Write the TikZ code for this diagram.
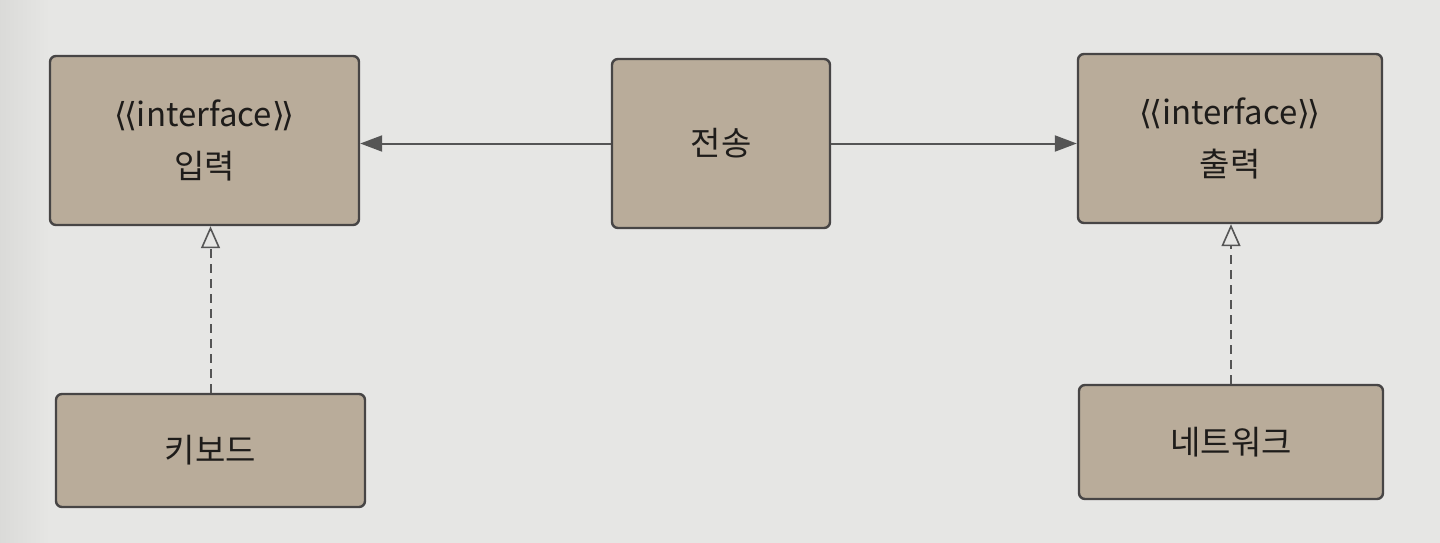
\documentclass[tikz,border=0pt]{standalone}
\usepackage{fontspec}
\setmainfont{Noto Sans CJK KR}
\newfontfamily\brfont{DejaVu Sans}
\usetikzlibrary{arrows.meta}
\definecolor{bgc}{HTML}{E6E6E4}
\definecolor{bgl}{HTML}{D8D8D6}
\definecolor{boxfill}{HTML}{B9AC9A}
\definecolor{boxline}{HTML}{474545}
\definecolor{arrc}{HTML}{555555}
\definecolor{txt}{HTML}{1E1C1A}
\newcommand{\lbr}{{\brfont\symbol{"27E8}\kern-0.1em\symbol{"27E8}}}
\newcommand{\rbr}{{\brfont\symbol{"27E9}\kern-0.1em\symbol{"27E9}}}
\tikzset{
  umlbox/.style={draw=boxline, fill=boxfill, line width=1.2pt, rounded corners=3pt,
    inner sep=0pt, text=txt, font=\fontsize{16.5}{26}\selectfont, align=center},
  assoc/.style={draw=arrc, line width=1pt, -{Triangle[length=11pt,width=8pt]}},
  realize/.style={draw=arrc, line width=1pt, dash pattern=on 4.5pt off 3pt,
    -{Triangle[open,length=11pt,width=9.5pt,line width=0.8pt]}}
}
\begin{document}
\begin{tikzpicture}[x=0.5pt,y=-0.5pt]
\useasboundingbox (0,0) rectangle (1440,542);
\fill[bgc] (-10,-10) rectangle (1450,552);
\shade[left color=bgl, right color=bgc] (-10,-10) rectangle (50,552);
\node[umlbox, minimum width=154.5pt, minimum height=84.5pt] (in) at (204.5,140.5)
  {\lbr interface\rbr\\입력};
\node[umlbox, minimum width=109pt, minimum height=84.5pt] (send) at (721,143.5) {전송};
\node[umlbox, minimum width=152pt, minimum height=84.5pt] (out) at (1230,138.5)
  {\lbr interface\rbr\\출력};
\node[umlbox, minimum width=154.5pt, minimum height=56.5pt] (kb) at (210.5,450.5) {키보드};
\node[umlbox, minimum width=152pt, minimum height=57pt] (net) at (1231,442) {네트워크};
\draw[assoc] (send.west) -- (send.west -| in.east);
\draw[assoc] (send.east) -- (send.east -| out.west);
\draw[realize] (kb.north) -- (kb.north |- in.south);
\draw[realize] (net.north) -- (net.north |- out.south);
\end{tikzpicture}
\end{document}
